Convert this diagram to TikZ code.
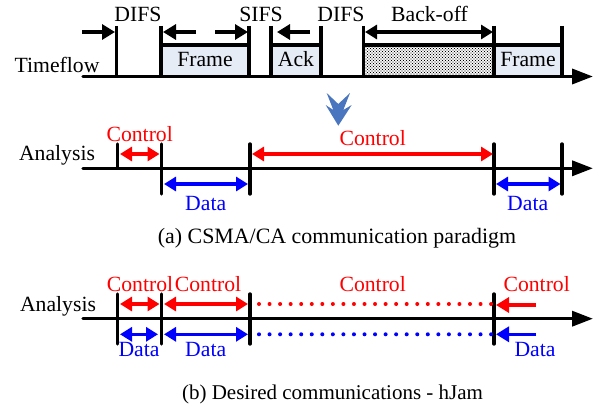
\documentclass[tikz,border=0pt]{standalone}
\usepackage{fontspec}
\setmainfont{Liberation Serif}
\usetikzlibrary{arrows.meta,patterns}
\definecolor{framefill}{HTML}{E6ECF6}
\definecolor{chev}{HTML}{4A76C0}
\definecolor{ctrl}{HTML}{FF0000}
\definecolor{dat}{HTML}{0000FF}
\pgfdeclarepatternformonly{stipple}{\pgfqpoint{-1pt}{-1pt}}{\pgfqpoint{3pt}{3pt}}{\pgfqpoint{3pt}{3pt}}{%
  \pgfpathcircle{\pgfqpoint{0pt}{0pt}}{0.55pt}%
  \pgfpathcircle{\pgfqpoint{1.5pt}{1.5pt}}{0.55pt}%
  \pgfusepath{fill}}
\tikzset{
 lbl/.style={anchor=base,inner sep=0pt,outer sep=0pt,font=\fontsize{21.7}{24}\selectfont},
 ctrllbl/.style={lbl,text=ctrl},
 datlbl/.style={lbl,text=dat},
 axisline/.style={line width=3.5pt,-{Triangle[length=21pt,width=15pt]},line cap=round},
 tick/.style={line width=3.4pt,line cap=round},
 bartop/.style={line width=3.3pt},
 dim/.style={line width=3.3pt,{Triangle[length=12pt,width=14pt]}-{Triangle[length=12pt,width=14pt]}},
 dimr/.style={line width=3.3pt,-{Triangle[length=13pt,width=15pt]}},
 ctrlarr/.style={dim,draw=ctrl},
 datarr/.style={dim,draw=dat},
 ctrlone/.style={dimr,draw=ctrl},
 datone/.style={dimr,draw=dat},
 dots/.style={line width=4pt,line cap=round,dash pattern=on 0pt off 10.55pt}
}
\begin{document}
\begin{tikzpicture}[x=1pt,y=-1pt]
\useasboundingbox (0,0) rectangle (594,404);
% top row fills
\fill[framefill] (161,45) rectangle (249,76);
\fill[framefill] (271,45) rectangle (321,76);
\fill[framefill] (494,45) rectangle (562,76);
\fill[pattern=stipple,pattern color=black] (364,45) rectangle (494,76);
\foreach \a/\b in {161/249,271/321,364/494,494/562}{\draw[bartop] (\a,45) -- (\b,45);}
\foreach \a in {116.5,161,249,271,321,363.5,494,562}{\draw[tick,line cap=butt] (\a,26) -- (\a,76);}
\draw[axisline] (83,76.5) -- (593,76.5);
\draw[dimr] (82,32) -- (115,32);
\draw[dimr] (196,32) -- (163,32);
\draw[dimr] (215,32) -- (248,32);
\draw[dimr] (310,32) -- (277,32);
\draw[dim] (365,32) -- (493,32);
\node[lbl] (difsa) at (138,22) {DIFS};
\node[lbl] (sifs) at (261,22) {SIFS};
\node[lbl] (difsb) at (341,22) {DIFS};
\node[lbl] (backoff) at (429.5,22) {Back-off};
\node[lbl] (framea) at (205,66.5) {Frame};
\node[lbl] (ack) at (296,66.5) {Ack};
\node[lbl] (frameb) at (528,66.5) {Frame};
\node[lbl] (timeflow) at (57,72.7) {Timeflow};
% chevrons
\fill[chev] (326.7,93) -- (338.3,104) -- (350,93) -- (343.3,110) -- (351.7,105) -- (338.3,125.7) -- (325.7,105) -- (333.3,110) -- cycle;
% analysis row a
\draw[axisline] (83,168.3) -- (593,168.3);
\draw[tick] (117.5,144) -- (117.5,168);
\foreach \a in {161.5,250,494,562}{\draw[tick] (\a,144) -- (\a,194);}
\draw[ctrlarr] (120,154) -- (159.5,154);
\draw[datarr] (164,184) -- (248,184);
\draw[ctrlarr] (252,154) -- (493,154);
\draw[datarr] (496,184) -- (560.5,184);
\node[lbl] (analysisa) at (57,160.7) {Analysis};
\node[ctrllbl] (ca) at (139.7,141) {Control};
\node[ctrllbl] (cb) at (372.7,145) {Control};
\node[datlbl] (da) at (205.7,210) {Data};
\node[datlbl] (db) at (527.7,210) {Data};
\node[lbl,font=\fontsize{21.9}{24}\selectfont] (capa) at (337,243.5) {(a) CSMA/CA communication paradigm};
% analysis row b
\draw[axisline] (83,318.7) -- (593,318.7);
\foreach \a in {117.5,161.5,250,494}{\draw[tick] (\a,294) -- (\a,344);}
\draw[ctrlarr] (120,304) -- (159.5,304);
\draw[ctrlarr] (164,304) -- (248,304);
\draw[datarr] (120,334.3) -- (158,334.3);
\draw[datarr] (164,334.3) -- (248,334.3);
\draw[dots,draw=ctrl] (259,304) -- (492,304);
\draw[dots,draw=dat] (259,334.3) -- (492,334.3);
\draw[ctrlone] (536,305) -- (496,305);
\draw[datone] (536,334.3) -- (496,334.3);
\node[lbl] (analysisb) at (58,311.7) {Analysis};
\node[ctrllbl] (cc) at (140,291.7) {Control};
\node[ctrllbl] (cd) at (208,291.7) {Control};
\node[ctrllbl] (ce) at (372.7,291.7) {Control};
\node[ctrllbl] (cf) at (536.7,291.7) {Control};
\node[datlbl] (dc) at (139,356.7) {Data};
\node[datlbl] (dd) at (205.7,356.7) {Data};
\node[datlbl] (de) at (535,356.7) {Data};
\node[lbl,font=\fontsize{21}{24}\selectfont] (capb) at (332.5,399) {(b) Desired communications - hJam};
\end{tikzpicture}
\end{document}
